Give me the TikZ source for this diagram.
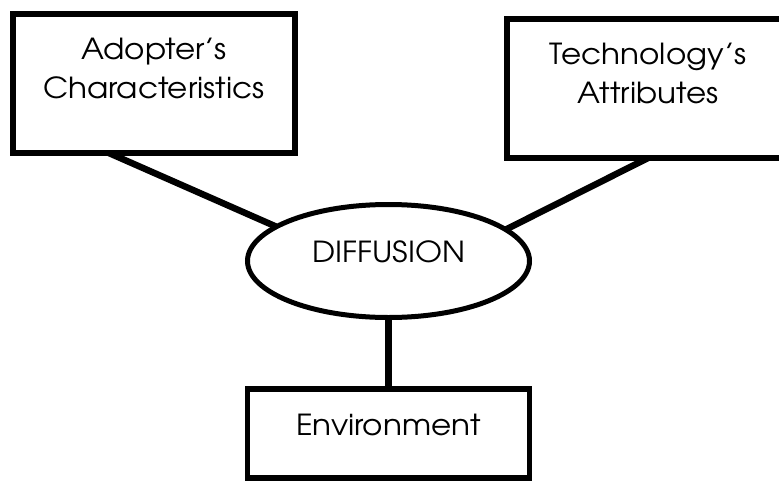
\documentclass[tikz,border=0pt]{standalone}
\usepackage{fontspec}
\setmainfont{TeX Gyre Adventor}[FakeStretch=1.07]
\usetikzlibrary{positioning,shapes.geometric}

\begin{document}
\begin{tikzpicture}
    [x=1pt,y=-1pt,
    font=\fontsize{29pt}{38.5pt}\selectfont,
    block/.style={draw,line width=5.5pt,inner sep=0pt,outer sep=0pt,
      minimum width=282pt,align=center,text height=84pt,text depth=55pt},
    hub/.style={draw,ellipse,line width=5pt,inner sep=0pt,outer sep=0pt,
      minimum width=282pt,minimum height=113pt,text height=21pt,text depth=19pt},
    link/.style={line width=6.5pt}]
    \useasboundingbox (0,0) rectangle (779,482);
    \node[hub] (diffusion) at (388.5,261) {DIFFUSION};
    \node[block,anchor=north] (adopter) at (154,14) {Adopter's\\Characteristics};
    \node[block,anchor=north] (technology) at (648,19) {Technology's\\Attributes};
    \node[block,text height=46pt,text depth=43pt] (environment) [below=71.5pt of diffusion] {Environment};
    \draw[link] (adopter.237) -- (diffusion.163);
    \draw[link] (technology.south) -- (diffusion.15);
    \draw[link] (diffusion) -- (environment);
\end{tikzpicture}
\end{document}
